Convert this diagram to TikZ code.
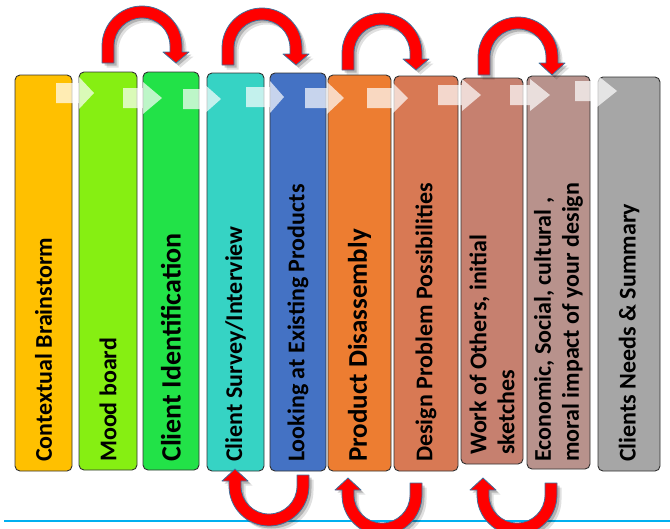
\documentclass[tikz,border=0pt]{standalone}
\usepackage{fontspec}
\setmainfont{Carlito}

\definecolor{cbox1}{RGB}{255,192,0}
\definecolor{cbox2}{RGB}{134,239,18}
\definecolor{cbox3}{RGB}{34,226,72}
\definecolor{cbox4}{RGB}{54,211,196}
\definecolor{cbox5}{RGB}{68,114,196}
\definecolor{cbox6}{RGB}{237,125,49}
\definecolor{cbox7}{RGB}{216,121,84}
\definecolor{cbox8}{RGB}{198,128,111}
\definecolor{cbox9}{RGB}{184,146,140}
\definecolor{cbox10}{RGB}{166,166,166}
\definecolor{arcedge}{RGB}{65,113,156}
\definecolor{lineblue}{RGB}{0,176,240}

\tikzset{
  stagebox/.style={draw={rgb,255:red,50;green,50;blue,50}, line width=0.9pt, rounded corners=5pt},
  stagelbl/.style={font=\bfseries\fontsize{24}{28}\selectfont, inner sep=0pt, rotate=90, anchor=west, align=left},
  flowarrow/.style={fill=white, opacity=0.7},
  loopshadow/.style={preaction={fill=black, opacity=0.12, transform canvas={xshift=4.5pt, yshift=-4.5pt}},
                     preaction={fill=black, opacity=0.2, transform canvas={xshift=2.5pt, yshift=-2.5pt}}},
  looparrow/.style={fill=red, draw=arcedge, line width=0.8pt, line join=round, loopshadow}
}

\begin{document}
\begin{tikzpicture}[x=1pt, y=-1pt]

\useasboundingbox (0,0) rectangle (670,528);
\clip (0,0) rectangle (670,528);

% ===== Boxes =====
\foreach \xl/\xr/\yt/\yb/\col in {15/72/75/471/cbox1, 79/137/72/470/cbox2, 143/199/72/470/cbox3,
    207/264/73/471/cbox4, 270/326/73/471/cbox5, 328/391/75/471/cbox6, 394/458/76/471/cbox7,
    461/523/78/464/cbox8, 527/590/76/469/cbox9, 598/660/77/471/cbox10} {
    \draw[stagebox, fill=\col] (\xl,\yt) rectangle (\xr,\yb);
}

% ===== Flow arrows =====
\foreach \xs/\xh/\xt/\yc in {56/79/94/93, 123/143/162/98, 183/203/221/99, 246/270/284/97,
    305/327/344/98, 367/392/408/98, 438/462/481/95, 510/530/550/95, 575/597/617/91} {
    \fill[flowarrow] (\xs,\yc-10) -- (\xh,\yc-10) -- (\xh,\yc-16) -- (\xt,\yc)
        -- (\xh,\yc+16) -- (\xh,\yc+10) -- (\xs,\yc+10) -- cycle;
}

% ===== Labels =====
\node[stagelbl] (ctx) at (43.5,462) {Contextual Brainstorm};
\node[stagelbl] (mood) at (108,462) {Mood board};
\node[stagelbl, font=\bfseries\fontsize{28}{32}\selectfont] (ident) at (171,462) {Client Identification};
\node[stagelbl] (survey) at (235.5,462) {Client Survey/Interview};
\node[stagelbl] (exist) at (298,462) {Looking at Existing Products};
\node[stagelbl, font=\bfseries\fontsize{27}{31}\selectfont] (disass) at (359.5,462) {Product Disassembly};
\node[stagelbl] (probl) at (426,462) {Design Problem Possibilities};
\node[stagelbl] (others) at (492,455) {Work of Others, initial\\sketches};
\node[stagelbl] (impact) at (558.5,462) {Economic, Social, cultural ,\\moral impact of your design};
\node[stagelbl] (needs) at (629,462) {Clients Needs \& Summary};

% ===== Base line =====
\draw[lineblue, line width=2.5pt] (4,521) -- (670,521);

% ===== Loops over the top =====
\foreach \cx/\cy/\tb in {142/46/63, 262/48/65, 382/53/70, 518/57/75} {
    \filldraw[looparrow] (\cx-40,\tb) -- (\cx-40,\cy) arc[start angle=180, end angle=360, radius=40]
        -- (\cx+40,\cy+6) -- (\cx+47,\cy+6) -- (\cx+34,\tb) -- (\cx+21,\cy+6) -- (\cx+28,\cy+6)
        -- (\cx+28,\cy) arc[start angle=360, end angle=180, radius=28] -- (\cx-28,\tb) -- cycle;
}

% ===== Loops underneath =====
\foreach \cx/\cy/\tt in {269/486/475, 382/495/483, 517/495/483} {
    \filldraw[looparrow] (\cx+40,\tt) -- (\cx+40,\cy) arc[start angle=0, end angle=180, radius=40]
        -- (\cx-40,\cy-5) -- (\cx-47,\cy-5) -- (\cx-34,\cy-17) -- (\cx-21,\cy-5) -- (\cx-28,\cy-5)
        -- (\cx-28,\cy) arc[start angle=180, end angle=0, radius=28] -- (\cx+28,\tt) -- cycle;
}

\end{tikzpicture}
\end{document}
